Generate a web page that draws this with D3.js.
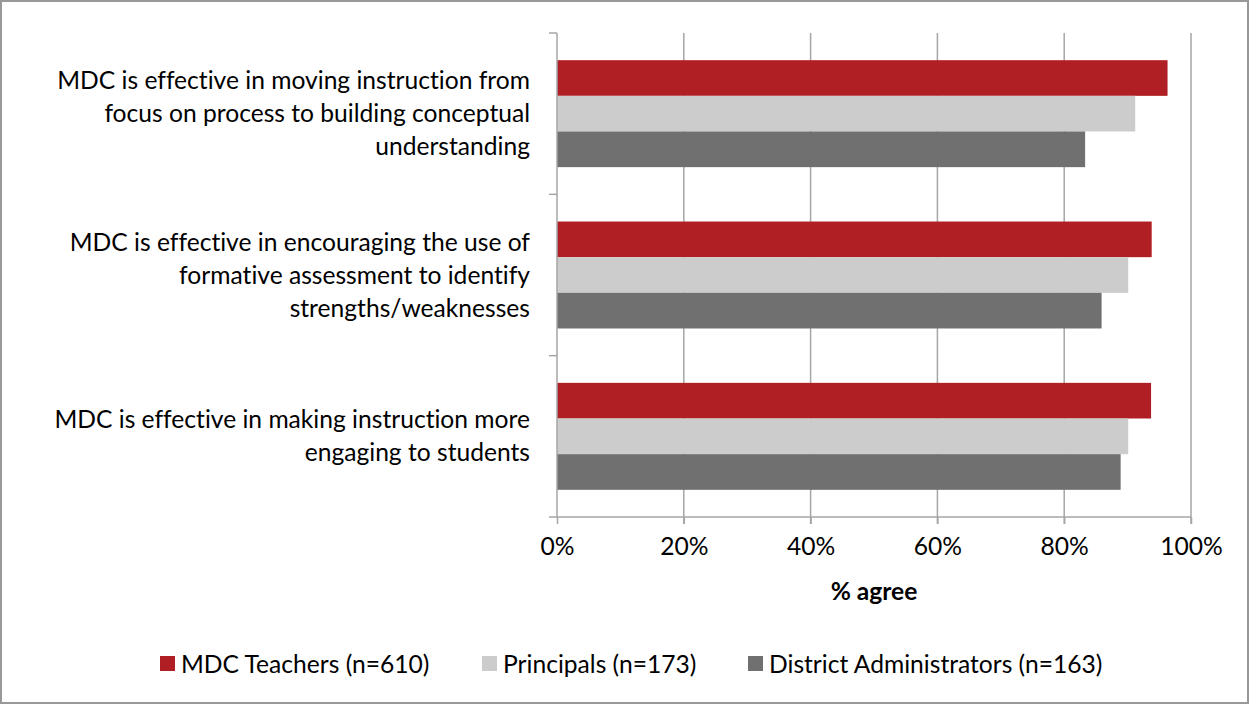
<!DOCTYPE html>
<html><head><meta charset="utf-8">
<script src="https://cdn.jsdelivr.net/npm/d3@7"></script>
<style>body{margin:0;background:#fff}svg{display:block}text{font-family:Lato,"Open Sans",sans-serif;fill:#000;font-variant-ligatures:none;font-feature-settings:"liga" 0,"dlig" 0}</style>
</head><body><svg id="c" width="1250" height="705"></svg>
<script>
const categories = [
  ["MDC is effective in moving instruction from","focus on process to building conceptual","understanding"],
  ["MDC is effective in encouraging the use of","formative assessment to identify","strengths/weaknesses"],
  ["MDC is effective in making instruction more","engaging to students"]
];
const seriesNames = ["MDC Teachers (n=610)","Principals (n=173)","District Administrators (n=163)"];
const seriesColors = ["#B01F24","#CCCCCC","#707070"];
const teachers = [0.963, 0.938, 0.937];
const principals = [0.912, 0.901, 0.901];
const districtAdmins = [0.833, 0.859, 0.889];
const xTicks = [0,0.2,0.4,0.6,0.8,1.0];
const xTitle = "% agree";

const values = [teachers, principals, districtAdmins];
const svg = d3.select("#c");
svg.append("rect").attr("x",1).attr("y",1).attr("width",1247).attr("height",702)
  .attr("fill","#fff").attr("stroke","#999").attr("stroke-width",2);

const x = d3.scaleLinear().domain([0,1]).range([557,1191]);
const ids = categories.map((c,i)=>i);
const pad = 0.337;
const y = d3.scaleBand().domain(ids).range([33,517]).paddingInner(pad).paddingOuter(pad/2);
const ys = d3.scaleBand().domain(seriesNames).range([0,y.bandwidth()]);

// font size fit
const FS = 20;
const probe = svg.append("text").style("font-size",FS+"px").text(categories[0][0]);
const w = probe.node().getComputedTextLength();
probe.remove();
const fs = FS*473/w;

// gridlines
svg.append("g").selectAll("line").data(xTicks.slice(1)).join("line")
  .attr("x1",d=>x(d)).attr("x2",d=>x(d)).attr("y1",33).attr("y2",524)
  .attr("stroke","#a6a6a6").attr("stroke-width",1.5);

// bars
ids.forEach(i=>{
  seriesNames.forEach((s,j)=>{
    svg.append("rect").attr("x",x(0)).attr("y",y(i)+ys(s))
      .attr("width",x(values[j][i])-x(0)).attr("height",ys.bandwidth())
      .attr("fill",seriesColors[j]);
  });
});

// x axis
const xAxis = d3.axisBottom(x).tickValues(xTicks).tickFormat(d3.format(".0%")).tickSize(7).tickPadding(14);
const gx = svg.append("g").attr("transform","translate(0,517)").call(xAxis);
gx.select(".domain").attr("stroke","#a6a6a6").attr("stroke-width",1.5).attr("d","M557,0H1191");
gx.selectAll(".tick line").attr("stroke","#a6a6a6").attr("stroke-width",1.5);
gx.selectAll(".tick text").style("font-size",fs+"px").style("font-family","Lato,'Open Sans',sans-serif").attr("fill","#000");

// y axis line and boundary ticks
svg.append("line").attr("x1",557).attr("x2",557).attr("y1",33).attr("y2",517).attr("stroke","#a6a6a6").attr("stroke-width",1.5);
const step = y.step();
const bounds = ids.map(i=>y(i)-step*pad/2).concat([517]);
svg.append("g").selectAll("line").data(bounds).join("line")
  .attr("x1",549).attr("x2",557).attr("y1",d=>d).attr("y2",d=>d)
  .attr("stroke","#a6a6a6").attr("stroke-width",1.5);

// category labels
const lh = 33;
ids.forEach(i=>{
  const lines = categories[i];
  const cy = y(i)+y.bandwidth()/2;
  const t = svg.append("text").attr("text-anchor","end").style("font-size",fs+"px");
  lines.forEach((l,k)=>{
    t.append("tspan").attr("x",530).attr("y",cy+(k-(lines.length-1)/2)*lh).attr("dy","0.35em").text(l);
  });
});

// x title
svg.append("text").attr("x",874).attr("y",591).attr("dy","0.35em").attr("text-anchor","middle")
  .style("font-size",fs+"px").style("font-weight","bold").text(xTitle);

// legend
const legX = [160,482,748];
seriesNames.forEach((s,j)=>{
  svg.append("rect").attr("x",legX[j]).attr("y",656).attr("width",15).attr("height",15).attr("fill",seriesColors[j]);
  svg.append("text").attr("x",legX[j]+21).attr("y",664).attr("dy","0.35em").style("font-size",fs+"px").text(s);
});
</script></body></html>
